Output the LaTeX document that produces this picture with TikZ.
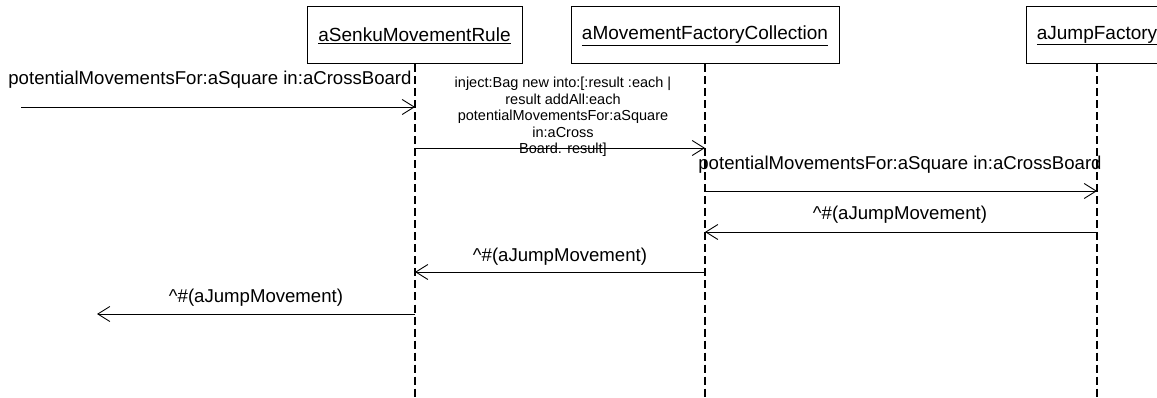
\documentclass[tikz,border=0pt]{standalone}
\usepackage{fontspec}
\setmainfont{Liberation Sans}
\usetikzlibrary{arrows.meta}
\tikzset{
  obj/.style={draw=black, line width=1pt, minimum height=57pt, inner sep=0pt, font=\fontsize{19}{22}\selectfont},
  life/.style={line width=2.2pt, dash pattern=on 8pt off 4pt},
  msg/.style={line width=0.9pt, -{Straight Barb[length=12pt,width=15pt,line width=0.9pt]}},
  lbl/.style={font=\fontsize{18.6}{22}\selectfont, inner sep=0pt},
  slbl/.style={font=\fontsize{14.5}{16.5}\selectfont, inner sep=0pt, align=center}
}
\begin{document}
\begin{tikzpicture}[x=1pt,y=-1pt]
\useasboundingbox (0,0) rectangle (1157,398);
\node[obj, minimum width=215pt] (r) at (414.5,35.5) {\underline{aSenkuMovementRule}};
\node[obj, minimum width=268pt] (c) at (705,35.5) {\underline{aMovementFactoryCollection}};
\node[obj, minimum width=142pt] (j) at (1097,35.5) {\underline{aJumpFactory}};
\coordinate (rb) at (415,398);
\coordinate (cb) at (705,398);
\coordinate (jb) at (1097,398);
\draw[life] (r.south -| rb) -- (rb);
\draw[life] (c.south -| cb) -- (cb);
\draw[life] (j.south -| jb) -- (jb);
% message 1
\coordinate (s1) at (21,107);
\coordinate (e1) at (415,107);
\draw[msg] (s1) -- (e1);
\node[lbl] (l1) at (210,80) {potentialMovementsFor:aSquare in:aCrossBoard};
% message 2
\coordinate (s2) at (415,148);
\coordinate (e2) at (705,148);
\draw[msg] (s2) -- (e2);
\node[slbl] (l2) at (563,117) {inject:Bag new into:[:result :each |\\result addAll:each\\potentialMovementsFor:aSquare\\in:aCross\\Board. result]};
% message 3
\coordinate (s3) at (705,191);
\coordinate (e3) at (1097,191);
\draw[msg] (s3) -- (e3);
\node[lbl] (l3) at (900,165) {potentialMovementsFor:aSquare in:aCrossBoard};
% message 4
\coordinate (s4) at (1097,232);
\coordinate (e4) at (705,232);
\draw[msg] (s4) -- (e4);
\node[lbl] (l4) at (900,215) {\textasciicircum\#(aJumpMovement)};
% message 5
\coordinate (s5) at (705,272);
\coordinate (e5) at (415,272);
\draw[msg] (s5) -- (e5);
\node[lbl] (l5) at (560,257) {\textasciicircum\#(aJumpMovement)};
% message 6
\coordinate (s6) at (415,314);
\coordinate (e6) at (97,314);
\draw[msg] (s6) -- (e6);
\node[lbl] (l6) at (256,298) {\textasciicircum\#(aJumpMovement)};
\end{tikzpicture}
\end{document}
